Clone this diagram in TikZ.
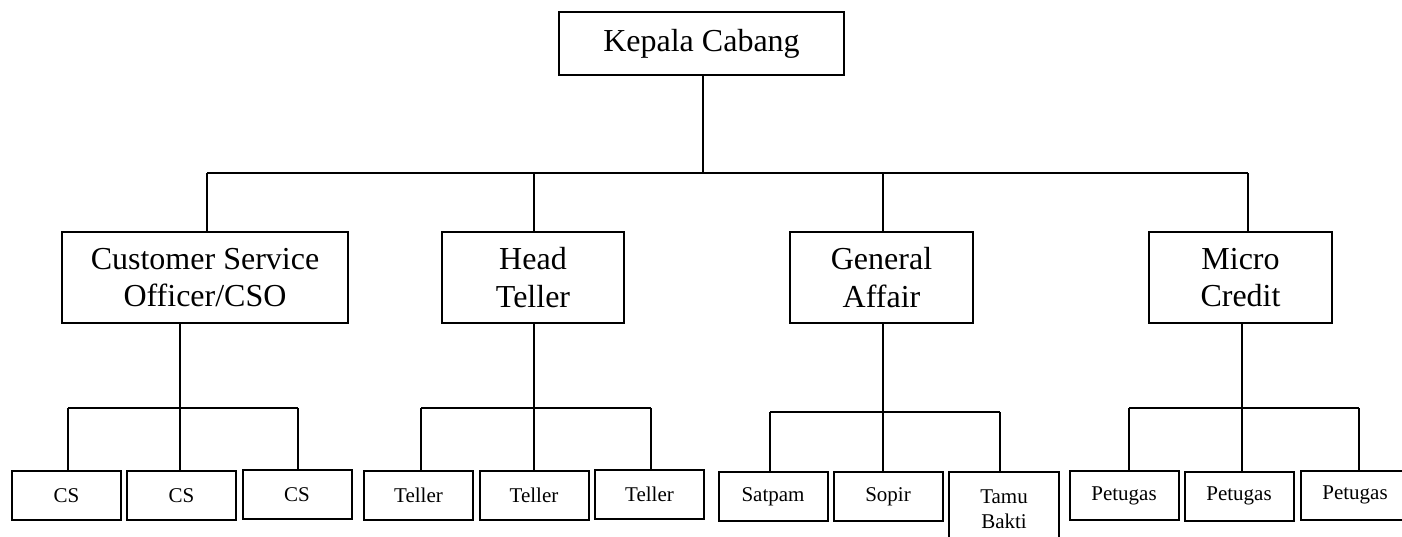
\documentclass[tikz,border=0pt]{standalone}
\usepackage{fontspec}
\setmainfont{Liberation Serif}
\begin{document}
\begin{tikzpicture}[x=0.5pt,y=-0.5pt,
  line width=1pt,
  box/.style={draw, line width=1pt, rectangle, inner sep=0pt, align=center},
  bigbox/.style={box, minimum height=45.5pt, font=\fontsize{16}{18.7}\selectfont},
  smallbox/.style={box, minimum width=54.5pt, minimum height=24.5pt, font=\fontsize{10.5}{12.5}\selectfont},
  conn/.style={line width=1pt}]
\useasboundingbox (0,0) rectangle (1402,536);
\clip (0,0) rectangle (1402,536);
\fill[white] (0,0) rectangle (1402,536);

% top
\node[box, minimum width=142.5pt, minimum height=31.5pt, font=\fontsize{16}{18.7}\selectfont] (kc) at (701.5,43.5) {Kepala Cabang};

% managers
\node[bigbox, minimum width=143pt] (cso) at (205,277.5) {Customer Service\\Officer/CSO};
\node[bigbox, minimum width=91pt] (ht) at (533,277.5) {Head\\Teller};
\node[bigbox, minimum width=91.5pt] (ga) at (881.5,277.5) {General\\Affair};
\node[bigbox, minimum width=91.5pt] (mc) at (1240.5,277.5) {Micro\\Credit};

% staff
\node[smallbox] (cs1) at (66.5,495.5) {CS};
\node[smallbox] (cs2) at (181.5,495.5) {CS};
\node[smallbox] (cs3) at (297,494.5) {CS};
\node[smallbox] (t1) at (418.5,495.5) {Teller};
\node[smallbox] (t2) at (534,495.5) {Teller};
\node[smallbox] (t3) at (649.5,494.5) {Teller};
\node[smallbox] (s1) at (773,496.5) {Satpam};
\node[smallbox] (s2) at (888,496.5) {Sopir};
\node[box, minimum width=55pt, minimum height=37.5pt, font=\fontsize{10.5}{12.5}\selectfont, anchor=north] (s3) at (1004,471) {Tamu\\Bakti};
\node[smallbox] (p1) at (1124,495.5) {Petugas};
\node[smallbox] (p2) at (1239,496) {Petugas};
\node[smallbox] (p3) at (1355,495) {Petugas};

% main bus
\coordinate (busc) at (703,173);
\coordinate (bus1) at (207,173);
\coordinate (bus2) at (534,173);
\coordinate (bus3) at (883,173);
\coordinate (bus4) at (1248,173);
\draw[conn] (kc.south -| busc) -- (busc);
\draw[conn] (bus1) -- (bus4);
\draw[conn] (bus1) -- (bus1 |- cso.north);
\draw[conn] (bus2) -- (bus2 |- ht.north);
\draw[conn] (bus3) -- (bus3 |- ga.north);
\draw[conn] (bus4) -- (bus4 |- mc.north);

% CSO group
\coordinate (c0) at (180,408);
\coordinate (c1) at (68,408);
\coordinate (c3) at (298,408);
\draw[conn] (cso.south -| c0) -- (c0);
\draw[conn] (c1) -- (c3);
\draw[conn] (c1) -- (c1 |- cs1.north);
\draw[conn] (c0) -- (c0 |- cs2.north);
\draw[conn] (c3) -- (c3 |- cs3.north);

% Head Teller group
\coordinate (h0) at (534,408);
\coordinate (h1) at (421,408);
\coordinate (h3) at (651,408);
\draw[conn] (ht.south -| h0) -- (h0);
\draw[conn] (h1) -- (h3);
\draw[conn] (h1) -- (h1 |- t1.north);
\draw[conn] (h0) -- (h0 |- t2.north);
\draw[conn] (h3) -- (h3 |- t3.north);

% General Affair group
\coordinate (g0) at (883,412);
\coordinate (g1) at (770,412);
\coordinate (g3) at (1000,412);
\draw[conn] (ga.south -| g0) -- (g0);
\draw[conn] (g1) -- (g3);
\draw[conn] (g1) -- (g1 |- s1.north);
\draw[conn] (g0) -- (g0 |- s2.north);
\draw[conn] (g3) -- (g3 |- s3.north);

% Micro Credit group
\coordinate (m0) at (1242,408);
\coordinate (m1) at (1129,408);
\coordinate (m3) at (1359,408);
\draw[conn] (mc.south -| m0) -- (m0);
\draw[conn] (m1) -- (m3);
\draw[conn] (m1) -- (m1 |- p1.north);
\draw[conn] (m0) -- (m0 |- p2.north);
\draw[conn] (m3) -- (m3 |- p3.north);
\end{tikzpicture}
\end{document}
